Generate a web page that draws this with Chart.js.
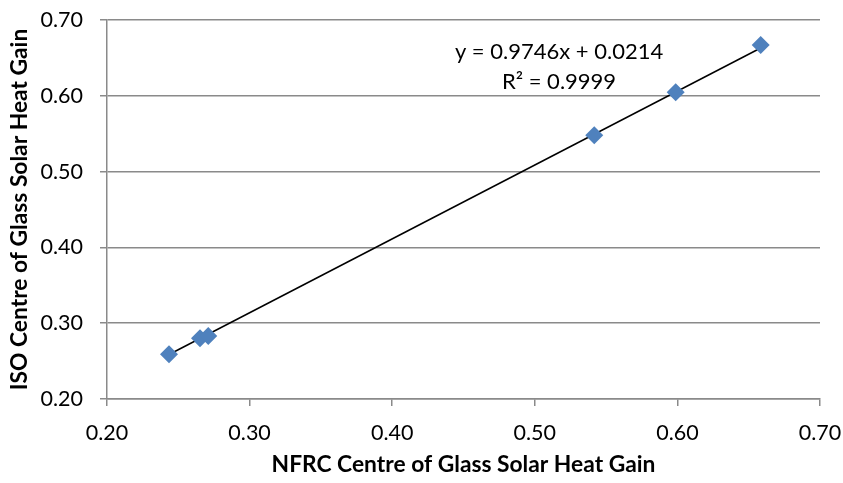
<!DOCTYPE html>
<html>
<head>
<meta charset="utf-8">
<script src="https://cdn.jsdelivr.net/npm/chart.js@4/dist/chart.umd.min.js"></script>
<style>
html,body{margin:0;padding:0;background:#fff;}
#wrap{width:843px;height:483px;}
</style>
</head>
<body>
<div id="wrap"><canvas id="c" width="843" height="483"></canvas></div>
<script>
// Data
const nfrcValues = [0.2435, 0.2652, 0.2710, 0.5417, 0.5988, 0.6584];
const isoValues  = [0.2590, 0.2800, 0.2830, 0.5480, 0.6046, 0.6670];
const xTickValues = [0.20, 0.30, 0.40, 0.50, 0.60, 0.70];
const yTickValues = [0.20, 0.30, 0.40, 0.50, 0.60, 0.70];
const trendSlope = 0.9746;
const trendIntercept = 0.0214;
const equationLines = ['y = 0.9746x + 0.0214', 'R² = 0.9999'];
const xTitle = 'NFRC Centre of Glass Solar Heat Gain';
const yTitle = 'ISO Centre of Glass Solar Heat Gain';

const xMin = Math.min(...nfrcValues), xMax = Math.max(...nfrcValues);
const trendPoints = [
  {x: xMin, y: trendSlope * xMin + trendIntercept},
  {x: xMax, y: trendSlope * xMax + trendIntercept}
];
const points = nfrcValues.map((x, i) => ({x, y: isoValues[i]}));

const FONT = 'Lato, "Open Sans", sans-serif';
const GRID = '#8a8a8a';

const eqPlugin = {
  id: 'eqLabel',
  afterDatasetsDraw(chart, args, opts) {
    const {ctx, scales} = chart;
    const x = scales.x.getPixelForValue(opts.xValue);
    const y = scales.y.getPixelForValue(opts.yValue);
    ctx.save();
    ctx.fillStyle = '#000';
    ctx.font = '22px ' + FONT;
    ctx.textAlign = 'center';
    ctx.textBaseline = 'middle';
    equationLines.forEach((t, i) => ctx.fillText(t, x, y + i * 30));
    ctx.restore();
  }
};

new Chart(document.getElementById('c'), {
  type: 'scatter',
  data: {
    datasets: [
      {
        label: 'Trend',
        data: trendPoints,
        showLine: true,
        borderColor: '#000',
        borderWidth: 1.5,
        pointRadius: 0,
        order: 2
      },
      {
        label: 'SHGC',
        data: points,
        pointStyle: 'rectRot',
        pointRadius: 9,
        pointHoverRadius: 9,
        backgroundColor: '#4F81BD',
        borderColor: '#4F81BD',
        borderWidth: 0,
        order: 1
      }
    ]
  },
  options: {
    responsive: false,
    animation: false,
    devicePixelRatio: 1,
    layout: {padding: {top: 20, right: 23, left: 0, bottom: 0}},
    plugins: {
      legend: {display: false},
      tooltip: {enabled: false},
      eqLabel: {xValue: 0.517, yValue: 0.658}
    },
    scales: {
      x: {
        type: 'linear',
        min: 0.2, max: 0.7,
        afterBuildTicks: s => { s.ticks = xTickValues.map(v => ({value: v})); },
        afterFit: s => { s.height = 84; s.paddingLeft = 0; s.paddingRight = 0; },
        ticks: {
          color: '#000',
          font: {family: FONT, size: 21.5},
          padding: 14,
          callback: v => v.toFixed(2)
        },
        grid: {display: true, drawOnChartArea: false, drawTicks: true, tickLength: 7, color: GRID, lineWidth: 1.5},
        border: {display: true, color: GRID, width: 1.5},
        title: {
          display: true, text: xTitle, color: '#000',
          font: {family: FONT, size: 22.8, weight: 'bold'},
          padding: {top: 0, bottom: 4.3}
        }
      },
      y: {
        type: 'linear',
        min: 0.2, max: 0.7,
        afterBuildTicks: s => { s.ticks = yTickValues.map(v => ({value: v})); },
        afterFit: s => { s.width = 107; s.paddingTop = 0; s.paddingBottom = 0; },
        ticks: {
          color: '#000',
          font: {family: FONT, size: 21.5},
          padding: 17,
          callback: v => v.toFixed(2)
        },
        grid: {display: true, drawOnChartArea: true, drawTicks: true, tickLength: 7, color: GRID, lineWidth: 1.5},
        border: {display: true, color: GRID, width: 1.5},
        title: {
          display: true, text: yTitle, color: '#000',
          font: {family: FONT, size: 22.8, weight: 'bold'},
          padding: {top: 6.3, bottom: 0}
        }
      }
    }
  },
  plugins: [eqPlugin]
});
</script>
</body>
</html>
